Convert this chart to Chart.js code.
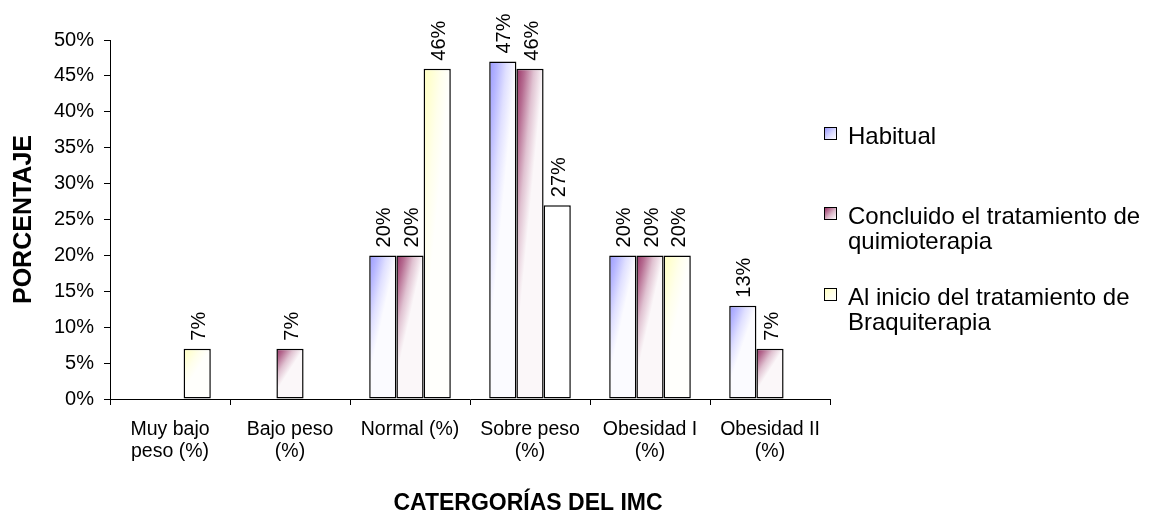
<!DOCTYPE html>
<html>
<head>
<meta charset="utf-8">
<title>Categorías del IMC</title>
<script src="https://cdn.jsdelivr.net/npm/chart.js@4/dist/chart.umd.min.js"></script>
<style>
  html, body { margin: 0; padding: 0; background: #ffffff; }
  #wrap { position: relative; width: 1149px; height: 511px; }
  #chart { position: absolute; left: 0; top: 0; }
  #legend { position: absolute; left: 824px; top: 0; width: 325px; height: 511px;
            font-family: "Liberation Sans", Arial, sans-serif; font-size: 24px; line-height: 25px; color: #000; }
  .item { position: absolute; left: 0; width: 325px; }
  .sw { position: absolute; left: 0; top: 4px; width: 11px; height: 11px; border: 1px solid #000; }
  .tx { position: absolute; left: 24px; top: 0; width: 300px; }
</style>
</head>
<body>
<div id="wrap">
  <canvas id="chart" width="1149" height="511"></canvas>
  <div id="legend"></div>
</div>
<script>
// Categories of the body-mass index
const categories = [
  ["Muy bajo", "peso (%)"],
  ["Bajo peso", "(%)"],
  "Normal (%)",
  ["Sobre peso", "(%)"],
  ["Obesidad I", "(%)"],
  ["Obesidad II", "(%)"]
];

// Series names
const seriesNames = [
  "Habitual",
  "Concluido el tratamiento de quimioterapia",
  "Al inicio del tratamiento de Braquiterapia"
];

// Percentages per category (null = no bar)
const habitual        = [null, null, 20, 47, 20, 13];
const concluidoQuimio = [null, 7,    20, 46, 20, 7];
const inicioBraqui    = [7,    null, 46, 27, 20, null];

// Axis texts
const yTitle = "PORCENTAJE";
const xTitle = "CATERGORÍAS DEL IMC";

// Fill colours (gradient start) per series, per bar
const habitualTint = "#9999ff";
const quimioTint   = "#993366";
const braquiTint   = ["#ffffc0", "#ffffc0", "#ffffc0", "#ffffff", "#ffffc0", "#ffffc0"];

const FONT = '"Liberation Sans", Arial, sans-serif';

function hexToRgb(hex) {
  const h = hex.replace('#', '');
  return [parseInt(h.slice(0, 2), 16), parseInt(h.slice(2, 4), 16), parseInt(h.slice(4, 6), 16)];
}
function tint(hex, a) {
  const [r, g, b] = hexToRgb(hex);
  const m = (c) => Math.round(255 - (255 - c) * a);
  return `rgb(${m(r)},${m(g)},${m(b)})`;
}

// Corner gradient: strong colour at the top-left corner, fading to white
// towards the right side and the lower part of the bar.
function barGradient(ctx, el, color) {
  const p = el.getProps(['x', 'y', 'base', 'width'], true);
  const left = p.x - p.width / 2;
  const top = Math.min(p.y, p.base);
  const h = Math.abs(p.base - p.y);
  const w = p.width;
  const L = 0.85 * h;
  const k = w * L / (L * L + w * w);
  const g = ctx.createLinearGradient(left, top, left + L * k, top + w * k);
  g.addColorStop(0, tint(color, 1));
  g.addColorStop(0.3, tint(color, 0.72));
  g.addColorStop(0.65, tint(color, 0.3));
  g.addColorStop(1, tint(color, 0.04));
  return g;
}

const gradientFill = {
  id: 'gradientFill',
  afterDatasetsUpdate(chart) {
    const ctx = chart.ctx;
    chart.data.datasets.forEach((ds, i) => {
      const meta = chart.getDatasetMeta(i);
      meta.data.forEach((el, j) => {
        if (ds.data[j] == null) return;
        const c = Array.isArray(ds.tint) ? ds.tint[j] : ds.tint;
        el.options = Object.assign({}, el.options, { backgroundColor: barGradient(ctx, el, c) });
      });
    });
  }
};

// Rotated value labels above each bar
const valueLabels = {
  id: 'valueLabels',
  afterDatasetsDraw(chart) {
    const ctx = chart.ctx;
    ctx.save();
    ctx.font = `20px ${FONT}`;
    ctx.fillStyle = '#000';
    ctx.textAlign = 'left';
    ctx.textBaseline = 'middle';
    chart.data.datasets.forEach((ds, i) => {
      const meta = chart.getDatasetMeta(i);
      meta.data.forEach((el, j) => {
        const v = ds.data[j];
        if (v == null) return;
        ctx.save();
        ctx.translate(el.x + 2, el.y - 8);
        ctx.rotate(-Math.PI / 2);
        ctx.fillText(v + '%', 0, 0);
        ctx.restore();
      });
    });
    ctx.restore();
  }
};

// Category axis title
const xAxisTitle = {
  id: 'xAxisTitle',
  afterDraw(chart) {
    const ctx = chart.ctx;
    ctx.save();
    ctx.font = `bold 23px ${FONT}`;
    ctx.fillStyle = '#000';
    ctx.textAlign = 'center';
    ctx.textBaseline = 'alphabetic';
    ctx.fillText(xTitle, chart.chartArea.right - 302, 510);
    ctx.restore();
  }
};

const barStyle = { borderColor: '#000000', borderWidth: 1.5, borderSkipped: false, backgroundColor: '#ffffff' };

new Chart(document.getElementById('chart'), {
  type: 'bar',
  data: {
    labels: categories,
    datasets: [
      Object.assign({ label: seriesNames[0], data: habitual,        tint: habitualTint }, barStyle),
      Object.assign({ label: seriesNames[1], data: concluidoQuimio, tint: quimioTint }, barStyle),
      Object.assign({ label: seriesNames[2], data: inicioBraqui,    tint: braquiTint }, barStyle)
    ]
  },
  options: {
    responsive: false,
    animation: false,
    events: [],
    layout: { padding: { left: 0, top: 40, right: 319, bottom: 0 } },
    datasets: {
      bar: { categoryPercentage: 0.68, barPercentage: 1.0 }
    },
    plugins: {
      colors: { enabled: false },
      legend: { display: false },
      tooltip: { enabled: false },
      title: { display: false }
    },
    scales: {
      x: {
        grid: { offset: true, drawOnChartArea: false, drawTicks: true, tickLength: 6, color: '#000', lineWidth: 1 },
        border: { display: true, color: '#000', width: 1 },
        ticks: {
          autoSkip: false, maxRotation: 0, minRotation: 0, padding: 14, color: '#000',
          font: { family: FONT, size: 19.5, lineHeight: 1.13 }
        },
        afterFit(scale) { scale.height = 112; }
      },
      y: {
        min: 0, max: 50,
        grid: { drawOnChartArea: false, drawTicks: true, tickLength: 6, color: '#000', lineWidth: 1 },
        border: { display: true, color: '#000', width: 1 },
        ticks: {
          stepSize: 5, padding: 10, color: '#000',
          font: { family: FONT, size: 20 },
          callback: (v) => v + '%'
        },
        title: {
          display: true, text: yTitle, color: '#000',
          font: { family: FONT, size: 25, weight: 'bold', lineHeight: 1.2 },
          padding: { top: 9, bottom: 0 }
        },
        afterFit(scale) { scale.width = 110; }
      }
    }
  },
  plugins: [gradientFill, valueLabels, xAxisTitle]
});

// Legend beside the plot
const legendTops = [123, 203, 284];
const legendTints = [habitualTint, quimioTint, braquiTint[0]];
const legendEl = document.getElementById('legend');
seriesNames.forEach((name, i) => {
  const item = document.createElement('div');
  item.className = 'item';
  item.style.top = legendTops[i] + 'px';
  const sw = document.createElement('div');
  sw.className = 'sw';
  sw.style.background = `linear-gradient(135deg, ${legendTints[i]} 0%, ${tint(legendTints[i], 0.35)} 55%, #ffffff 100%)`;
  const tx = document.createElement('div');
  tx.className = 'tx';
  tx.textContent = name;
  item.appendChild(sw);
  item.appendChild(tx);
  legendEl.appendChild(item);
});
</script>
</body>
</html>
